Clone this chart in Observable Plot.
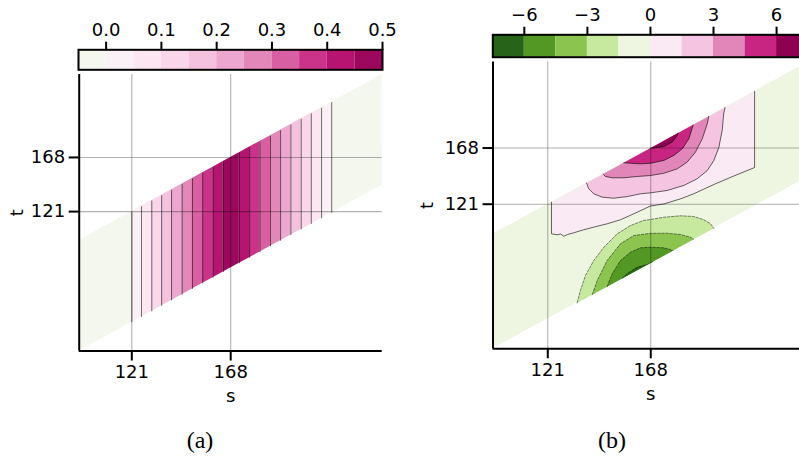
<!DOCTYPE html>
<html><head><meta charset="utf-8">
<script src="https://cdn.jsdelivr.net/npm/d3@7"></script>
<script src="https://cdn.jsdelivr.net/npm/@observablehq/plot@0.6"></script>
<style>
html,body{margin:0;padding:0;background:#fff;overflow:hidden;}
#root{position:relative;width:799px;height:457px;overflow:hidden;font-family:"DejaVu Sans";}
#root svg{position:absolute;left:0;top:0;}
.cap{position:absolute;font-family:"Liberation Serif",serif;font-size:24px;transform:translate(-50%,-50%);line-height:1;}
</style></head><body><div id="root"></div>
<script>
// ---------- shared axes ----------
const sTicks = [121, 168];
const tTicks = [121, 168];
const sDomain = [96, 240];
const tDomain = [0, 240];
// band (the drawn domain of the field): t between bandLo and bandHi
const bandS = [96, 240];
const bandLo = [0, 144];
const bandHi = [96, 240];

// ---------- panel (a) ----------
const levelsA = [-0.05, 0, 0.05, 0.1, 0.15, 0.2, 0.25, 0.3, 0.35, 0.4, 0.45, 0.5];
const ticksA = [0, 0.1, 0.2, 0.3, 0.4, 0.5];
const stripEdgesA = [121, 125.6, 130.5, 135.2, 139.9, 144.9, 149.8, 154.7, 159.6, 164.5, 172.1, 177.0, 181.9, 186.9, 191.7, 196.6, 201.5, 206.3, 211.2, 216.0];
const stripValuesA = [0.025, 0.075, 0.125, 0.175, 0.225, 0.275, 0.325, 0.375, 0.425, 0.475, 0.425, 0.375, 0.325, 0.275, 0.225, 0.175, 0.125, 0.075, 0.025];
const bandValueA = -0.025;

// ---------- panel (b) ----------
const levelsB = [-7.5, -6, -4.5, -3, -1.5, 0, 1.5, 3, 4.5, 6, 7.5];
const ticksB = [-6, -3, 0, 3, 6];
const bandValueB = -0.75;
// filled contour regions: boundary polylines starting/ending on the band edge
const pos1S = [122.7, 122.7, 125.3, 126.8, 128.3, 130.0, 132.9, 137.4, 142.0, 148.1, 154.2, 160.3, 167.9, 174.0, 181.6, 187.6, 196.8, 205.9, 215.4, 215.4];
const pos1T = [122.7, 96.2, 95.4, 96.1, 94.2, 95.6, 97.1, 99.6, 101.8, 104.6, 108.0, 113.0, 119.5, 121.2, 125.5, 129.7, 137.5, 144.6, 151.7, 215.4];
const pos2S = [138.7, 139.7, 142.0, 145.8, 151.1, 157.3, 163.3, 167.9, 175.5, 183.1, 189.2, 193.8, 196.8, 199.1, 200.6, 201.3, 201.9];
const pos2T = [138.7, 133.9, 129.7, 126.9, 126.0, 127.4, 129.7, 130.5, 132.5, 136.7, 142.3, 149.2, 157.6, 168.7, 182.7, 196.7, 201.9];
const pos3S = [146.3, 147.3, 150.4, 155.7, 161.8, 167.9, 174.0, 180.1, 184.6, 188.4, 191.5, 193.8, 194.5];
const pos3T = [146.3, 144.2, 143.1, 143.1, 144.2, 145.0, 146.9, 150.6, 156.2, 164.5, 175.7, 188.3, 194.5];
const pos4S = [155.7, 158.8, 163.3, 167.9, 174.0, 178.5, 182.4, 185.4, 187.4];
const pos4T = [155.7, 155.3, 154.8, 155.3, 157.6, 161.8, 167.4, 175.7, 187.4];
const pos5S = [167.9, 171.0, 174.0, 177.8, 180.1, 180.5];
const pos5T = [167.9, 168.5, 169.3, 172.9, 178.5, 180.5];
const neg1S = [134.4, 135.9, 138.2, 142.0, 146.6, 152.7, 158.8, 164.8, 167.9, 174.0, 181.6, 187.6, 192.2, 195.3, 196.8];
const neg1T = [38.4, 48.8, 61.3, 73.9, 85.0, 96.2, 103.2, 107.4, 108.2, 110.1, 111.3, 110.7, 108.0, 104.6, 100.8];
const neg2S = [141.3, 143.6, 148.1, 154.2, 160.3, 167.9, 175.5, 181.6, 186.1, 187.6];
const neg2T = [45.3, 57.2, 73.9, 87.9, 94.8, 96.6, 96.7, 95.6, 93.4, 91.6];
const neg3S = [148.1, 150.4, 154.2, 158.8, 163.3, 167.9, 174.0, 178.2];
const neg3T = [52.1, 62.8, 73.9, 80.8, 84.5, 85.0, 84.5, 82.2];
const neg4S = [155.0, 157.2, 161.8, 166.4, 168.7];
const neg4T = [59.0, 62.8, 68.3, 70.5, 72.7];
const regionsB = [
  {name: "pos1", v: 0.75, s: pos1S, t: pos1T},
  {name: "pos2", v: 2.25, s: pos2S, t: pos2T},
  {name: "pos3", v: 3.75, s: pos3S, t: pos3T},
  {name: "pos4", v: 5.25, s: pos4S, t: pos4T},
  {name: "pos5", v: 6.75, s: pos5S, t: pos5T},
  {name: "neg1", v: -2.25, s: neg1S, t: neg1T},
  {name: "neg2", v: -3.75, s: neg2S, t: neg2T},
  {name: "neg3", v: -5.25, s: neg3S, t: neg3T},
  {name: "neg4", v: -6.75, s: neg4S, t: neg4T}
];

// ---------- colours (matplotlib PiYG, used reversed) ----------
const piyg = ["#8e0152","#c51b7d","#de77ae","#f1b6da","#fde0ef","#f7f7f7","#e6f5d0","#b8e186","#7fbc41","#4d9221","#276419"];
const cmap = d3.piecewise(d3.interpolateRgb, piyg);
// (a): continuous map sampled at each bin's middle, symmetric norm
function binColorsMid(levels) {
  const vmax = Math.max(...levels.map(Math.abs));
  return d3.range(levels.length - 1).map(i => cmap(0.5 - (levels[i] + levels[i + 1]) / 2 / (2 * vmax)));
}
// (b): map resampled to one colour per bin
function binColorsResampled(levels) {
  const n = levels.length - 1;
  return d3.range(n).map(i => cmap(1 - i / (n - 1)));
}
const colorA = {type: "threshold", domain: levelsA.slice(1, -1), range: binColorsMid(levelsA)};
const colorB = {type: "threshold", domain: levelsB.slice(1, -1), range: binColorsResampled(levelsB)};

// ---------- derived tables ----------
const loAt = d3.scaleLinear(bandS, bandLo);
const hiAt = d3.scaleLinear(bandS, bandHi);
const bandRowsA = bandS.map((s, i) => ({s, lo: bandLo[i], hi: bandHi[i], v: bandValueA}));
const bandRowsB = bandS.map((s, i) => ({s, lo: bandLo[i], hi: bandHi[i], v: bandValueB}));
const stripRows = stripValuesA.flatMap((v, k) => [stripEdgesA[k], stripEdgesA[k + 1]].map(s => ({s, lo: loAt(s), hi: hiAt(s), v, k})));
const edgeRows = stripEdgesA.map(s => ({s, lo: loAt(s), hi: hiAt(s)}));
const rowsB = regionsB.flatMap(r => r.s.map((s, i) => ({name: r.name, v: r.v, s, t: r.t[i]})));
const posRows = rowsB.filter(d => d.v > 0);
const negRows = rowsB.filter(d => d.v < 0);
const binsA = d3.range(levelsA.length - 1).map(i => ({lo: levelsA[i], hi: levelsA[i + 1], mid: (levelsA[i] + levelsA[i + 1]) / 2}));
const binsB = d3.range(levelsB.length - 1).map(i => ({lo: levelsB[i], hi: levelsB[i + 1], mid: (levelsB[i] + levelsB[i + 1]) / 2}));

// ---------- layout ----------
const W = 820, H = 457, FS = 18, FF = "DejaVu Sans";
const baseStyle = "background:transparent;max-width:none;overflow:visible;font-family:'DejaVu Sans';font-size:18px;color:black;";
const minus = d => (d < 0 ? "\u2212" + (-d) : String(d));
const txt = {fontSize: FS, fontFamily: FF, fill: "#000"};

function mainPanel(frame, color, fills, lines, tdx) {
  return Plot.plot({
    width: W, height: H,
    marginLeft: frame.l, marginRight: W - frame.r, marginTop: frame.t, marginBottom: H - frame.b,
    x: {domain: sDomain}, y: {domain: tDomain}, color,
    style: baseStyle,
    marks: [
      ...fills,
      ...lines,
      Plot.gridX(sTicks, {stroke: "#000", strokeOpacity: 0.3, strokeWidth: 1.1}),
      Plot.gridY(tTicks, {stroke: "#000", strokeOpacity: 0.3, strokeWidth: 1.1}),
      Plot.ruleX([sDomain[0]], {stroke: "#000", strokeWidth: 2}),
      Plot.ruleY([tDomain[0]], {stroke: "#000", strokeWidth: 2}),
      Plot.axisX(sTicks, {tickSize: 10, tickPadding: 4, strokeWidth: 2, stroke: "#000", ...txt, label: null}),
      Plot.axisY(tTicks, {tickSize: 10, tickPadding: 4, strokeWidth: 2, stroke: "#000", ...txt, label: null}),
      Plot.text(["s"], {text: d => d, frameAnchor: "bottom", dy: 45, lineAnchor: "middle", textAnchor: "middle", ...txt}),
      Plot.text(["t"], {text: d => d, frameAnchor: "left", dx: tdx, rotate: -90, lineAnchor: "middle", textAnchor: "middle", ...txt})
    ]
  });
}

function colorbar(frame, color, bins, ticks, fmt) {
  return Plot.plot({
    width: W, height: H,
    marginLeft: frame.l, marginRight: W - frame.r, marginTop: frame.t, marginBottom: H - frame.b,
    x: {domain: [bins[0].lo, bins[bins.length - 1].hi]}, color,
    style: baseStyle,
    marks: [
      Plot.barX(bins, {x1: "lo", x2: "hi", fill: "mid"}),
      Plot.frame({stroke: "#000", strokeWidth: 2}),
      Plot.axisX(ticks, {anchor: "top", tickSize: 8.6, tickPadding: 5, strokeWidth: 2, stroke: "#000", ...txt, tickFormat: fmt, label: null})
    ]
  });
}

const root = document.getElementById("root");

const plotA = mainPanel({l: 78.7, r: 381.7, t: 74, b: 350.5}, colorA, [
  Plot.areaY(bandRowsA, {x: "s", y1: "lo", y2: "hi", fill: "v"}),
  Plot.areaY(stripRows, {x: "s", y1: "lo", y2: "hi", z: "k", fill: "v"})
], [
  Plot.link(edgeRows, {x1: "s", x2: "s", y1: "lo", y2: "hi", stroke: "#000", strokeOpacity: 0.7, strokeWidth: 0.8})
], -62);

const plotB = mainPanel({l: 492.5, r: 808, t: 61.5, b: 348.3}, colorB, [
  Plot.areaY(bandRowsB, {x: "s", y1: "lo", y2: "hi", fill: "v"}),
  Plot.line(rowsB, {x: "s", y: "t", z: "name", fill: "v", stroke: null})
], [
  Plot.line(posRows, {x: "s", y: "t", z: "name", stroke: "#000", strokeOpacity: 0.75, strokeWidth: 0.8}),
  Plot.line(negRows, {x: "s", y: "t", z: "name", stroke: "#000", strokeOpacity: 0.6, strokeWidth: 0.8, strokeDasharray: "2.5,1.6"})
], -65.5);

const cbA = colorbar({l: 78, r: 382, t: 49.3, b: 69.3}, colorA, binsA, ticksA, d3.format(".1f"));
const cbB = colorbar({l: 492.3, r: 807.6, t: 34.3, b: 56.7}, colorB, binsB, ticksB, minus);

[plotA, plotB, cbA, cbB].forEach(p => root.appendChild(p));

[["(a)", 200, 440], ["(b)", 612, 440]].forEach(([t, x, y]) => {
  const d = document.createElement("div");
  d.className = "cap"; d.textContent = t;
  d.style.left = x + "px"; d.style.top = y + "px";
  root.appendChild(d);
});
</script></body></html>
